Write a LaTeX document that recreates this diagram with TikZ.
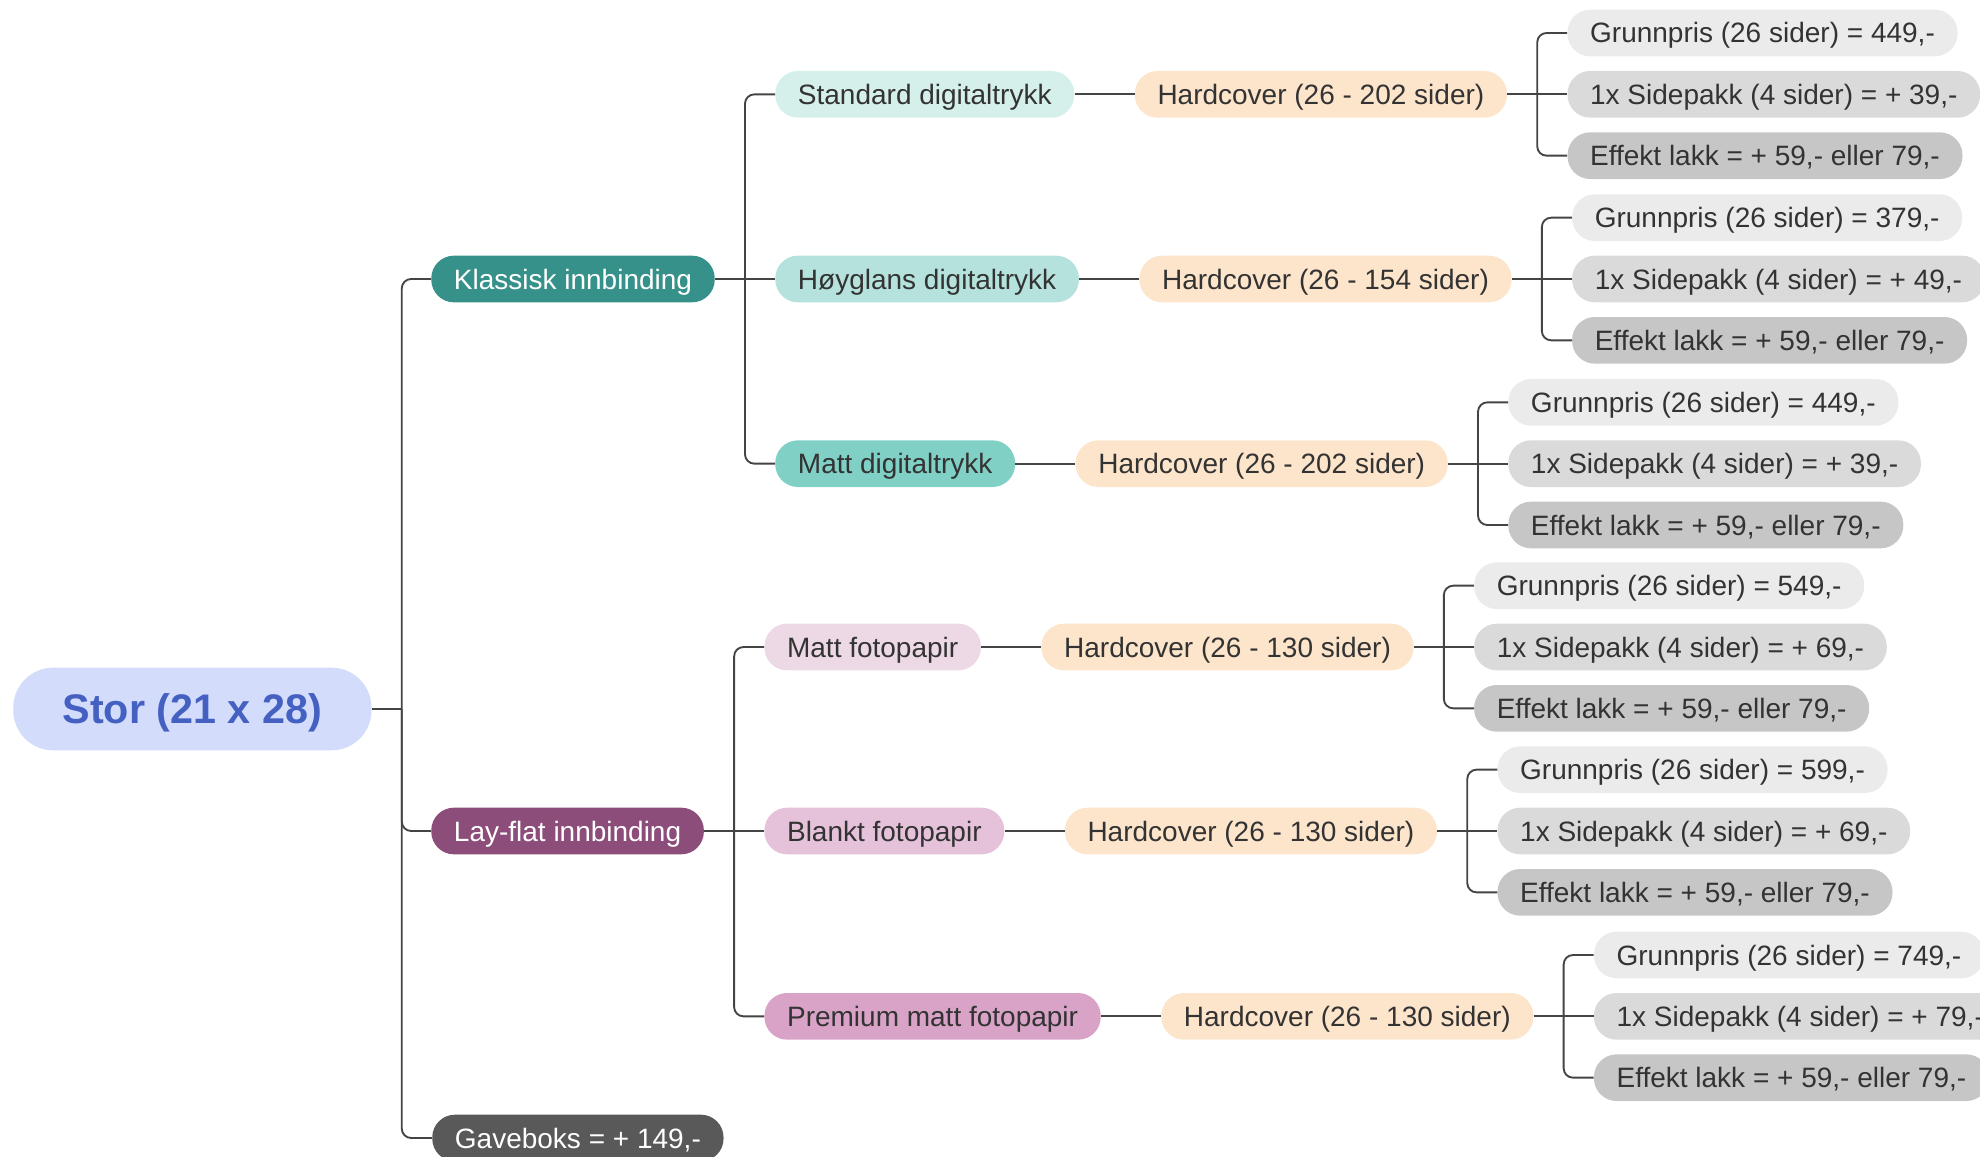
\documentclass[tikz,border=0pt]{standalone}
\usepackage{fontspec}
\setmainfont{Liberation Sans}
\usetikzlibrary{positioning}
\definecolor{linje}{HTML}{444444}
\definecolor{tekst}{HTML}{333333}
\definecolor{rotfyll}{HTML}{D3DCFB}
\definecolor{rottekst}{HTML}{4461C2}
\definecolor{klassiskfyll}{HTML}{36918A}
\definecolor{layflatfyll}{HTML}{8C4D7A}
\definecolor{gavefyll}{HTML}{595959}
\definecolor{standardfyll}{HTML}{D5EFEB}
\definecolor{hoyglansfyll}{HTML}{B5E2DC}
\definecolor{mattdigfyll}{HTML}{80D0C6}
\definecolor{mattfotofyll}{HTML}{EDD9E6}
\definecolor{blanktfyll}{HTML}{E5C2D9}
\definecolor{premiumfyll}{HTML}{D8A3C6}
\definecolor{hcfyll}{HTML}{FDE5CB}
\definecolor{grunnfyll}{HTML}{EBEBEB}
\definecolor{sidefyll}{HTML}{DADADA}
\definecolor{effektfyll}{HTML}{C6C6C6}
\tikzset{
  boble/.style={rounded corners=17pt, minimum height=35pt, inner xsep=17pt,
    inner ysep=0pt, text=tekst, anchor=west, text height=17pt, text depth=2pt,
    font=\fontsize{21}{25}\selectfont},
  rot/.style={boble, fill=rotfyll, text=rottekst, minimum height=62pt,
    rounded corners=30pt, inner xsep=37pt, text height=24pt, text depth=2pt,
    font=\fontsize{31}{36}\selectfont\bfseries},
  niva1/.style={boble, text=white},
  niva2/.style={boble},
  hc/.style={boble, fill=hcfyll},
  grunnpris/.style={boble, fill=grunnfyll},
  sidepakk/.style={boble, fill=sidefyll},
  effekt/.style={boble, fill=effektfyll},
  gren/.style={draw=linje, line width=1.4pt},
  bue/.style={gren, rounded corners=7pt},
}
% tre priser bak en hardcover-node
\newcommand{\prisgruppe}[4]{%
  \node[sidepakk, right=45pt of #2] (#1b) {1x Sidepakk (4 sider) = + #4,-};
  \node[grunnpris, right=45pt of #2, yshift=46pt] (#1a) {Grunnpris (26 sider) = #3,-};
  \node[effekt, right=45pt of #2, yshift=-46pt] (#1c) {Effekt lakk = + 59,- eller 79,-};
  \draw[gren] (#2.east) -- ++(22.5pt,0) coordinate (#1t) -- (#1b.west);
  \draw[bue] (#1t) |- (#1a.west);
  \draw[bue] (#1t) |- (#1c.west);
}

\begin{document}
\begin{tikzpicture}[x=0.75pt, y=-0.75pt]
\useasboundingbox (0,0) rectangle (1980,1156);
% rot
\node[rot] (stor) at (13,709) {Stor (21 x 28)};
% innbinding
\node[niva1, fill=klassiskfyll] (klassisk) at (431,279) {Klassisk innbinding};
\node[niva1, fill=layflatfyll] (layflat) at (431,831) {Lay-flat innbinding};
\node[niva1, fill=gavefyll] (gaveboks) at (432,1138) {Gaveboks = + 149,-};
\draw[gren] (stor.east) -- ++(22.5pt,0) coordinate (stor-t);
\draw[bue] (stor-t) |- (klassisk.west);
\draw[bue] (stor-t) |- (layflat.west);
\draw[bue] (stor-t) |- (gaveboks.west);
% papir, klassisk
\node[niva2, fill=hoyglansfyll, right=45pt of klassisk] (hoyglans) {Høyglans digitaltrykk};
\node[niva2, fill=standardfyll, right=45pt of klassisk, yshift=138.5pt] (standard) {Standard digitaltrykk};
\node[niva2, fill=mattdigfyll, right=45pt of klassisk, yshift=-138.5pt] (mattdig) {Matt digitaltrykk};
\draw[gren] (klassisk.east) -- ++(22.5pt,0) coordinate (klassisk-t) -- (hoyglans.west);
\draw[bue] (klassisk-t) |- (standard.west);
\draw[bue] (klassisk-t) |- (mattdig.west);
% papir, lay-flat
\node[niva2, fill=blanktfyll, right=45pt of layflat] (blankt) {Blankt fotopapir};
\node[niva2, fill=mattfotofyll, right=45pt of layflat, yshift=138pt] (mattfoto) {Matt fotopapir};
\node[niva2, fill=premiumfyll, right=45pt of layflat, yshift=-139pt] (premium) {Premium matt fotopapir};
\draw[gren] (layflat.east) -- ++(22.5pt,0) coordinate (layflat-t) -- (blankt.west);
\draw[bue] (layflat-t) |- (mattfoto.west);
\draw[bue] (layflat-t) |- (premium.west);
% hardcover
\node[hc, right=45pt of standard] (hcstandard) {Hardcover (26 - 202 sider)};
\node[hc, right=45pt of hoyglans] (hchoyglans) {Hardcover (26 - 154 sider)};
\node[hc, right=45pt of mattdig] (hcmattdig) {Hardcover (26 - 202 sider)};
\node[hc, right=45pt of mattfoto] (hcmattfoto) {Hardcover (26 - 130 sider)};
\node[hc, right=45pt of blankt] (hcblankt) {Hardcover (26 - 130 sider)};
\node[hc, right=45pt of premium] (hcpremium) {Hardcover (26 - 130 sider)};
\draw[gren] (standard.east) -- (hcstandard.west);
\draw[gren] (hoyglans.east) -- (hchoyglans.west);
\draw[gren] (mattdig.east) -- (hcmattdig.west);
\draw[gren] (mattfoto.east) -- (hcmattfoto.west);
\draw[gren] (blankt.east) -- (hcblankt.west);
\draw[gren] (premium.east) -- (hcpremium.west);
% priser
\prisgruppe{ps}{hcstandard}{449}{39}
\prisgruppe{ph}{hchoyglans}{379}{49}
\prisgruppe{pm}{hcmattdig}{449}{39}
\prisgruppe{pf}{hcmattfoto}{549}{69}
\prisgruppe{pb}{hcblankt}{599}{69}
\prisgruppe{pp}{hcpremium}{749}{79}
\end{tikzpicture}
\end{document}
